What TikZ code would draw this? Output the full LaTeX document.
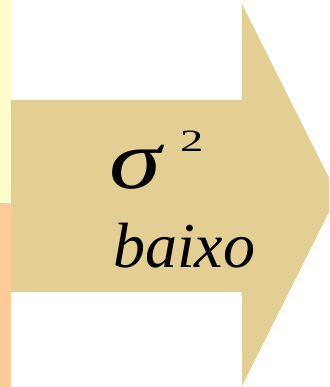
\documentclass[tikz,border=0pt]{standalone}
\usepackage{fontspec}
\setmainfont{Liberation Serif}
\definecolor{tan}{HTML}{E3CF93}
\definecolor{paleyellow}{HTML}{FFFFCC}
\definecolor{peach}{HTML}{FFCC99}
\begin{document}
\begin{tikzpicture}[x=1pt,y=-1pt,
  lbl/.style={inner sep=0pt,outer sep=0pt,anchor=base west,text=black}]
\useasboundingbox (0,0) rectangle (329,387);
\begin{scope}
\clip (0,0) rectangle (329,387);
\fill[paleyellow] (0,0) rectangle (11,203);
\fill[peach] (0,203) rectangle (11,387);
\fill[tan] (11,100) -- (242,100) -- (242,4) -- (337.5,195) -- (242,386) -- (242,292) -- (11,292) -- cycle;
\end{scope}
\node[lbl,font=\fontsize{84}{84}\selectfont\itshape] (sig) at (109,188) {\scalebox{1.25}[1]{σ}};
\node[lbl,font=\fontsize{31}{31}\selectfont] (two) at (180,152) {\scalebox{1.5}[1]{2}};
\node[lbl,font=\fontsize{64}{64}\selectfont\itshape] (low) at (113,267) {baixo};
\end{tikzpicture}
\end{document}
